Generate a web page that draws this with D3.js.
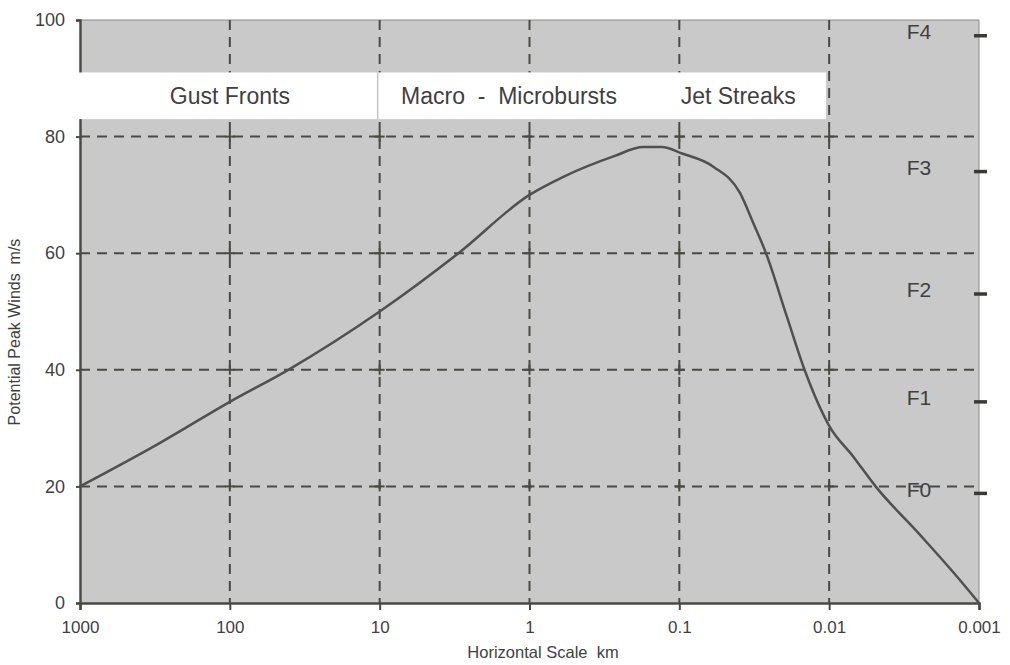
<!DOCTYPE html>
<html>
<head>
<meta charset="utf-8">
<script src="https://cdn.jsdelivr.net/npm/d3@7/dist/d3.min.js"></script>
<style>
  html, body { margin: 0; padding: 0; background: #ffffff; }
  svg { display: block; }
  text { font-family: "Liberation Sans", Arial, sans-serif; fill: #3f3f3f; }
</style>
</head>
<body>
<svg id="chart" width="1010" height="665"></svg>
<script>
// Horizontal scale of the wind system (km) and its potential peak wind (m/s)
const scaleKm  = [1000, 300, 100, 40.7, 10, 2.98, 1, 0.594, 0.275, 0.174, 0.131, 0.096,
                  0.059, 0.0393, 0.032, 0.0264, 0.0192, 0.0146, 0.01, 0.0069, 0.0049,
                  0.0025, 0.0015, 0.001];
const peakWind = [20, 27.3, 34.5, 40, 50, 60, 70, 73.1, 76.6, 78.2, 78.2, 77.1,
                  74.8, 70.3, 65.1, 60, 49.2, 40, 30.4, 25.1, 20,
                  11.8, 5.4, 0];

// Axis ticks
const xTicks = [1000, 100, 10, 1, 0.1, 0.01, 0.001];
const xTickLabels = ["1000", "100", "10", "1", "0.1", "0.01", "0.001"];
const yTicks = [0, 20, 40, 60, 80, 100];

// Fujita scale markers on the right edge (m/s)
const fujitaNames = ["F0", "F1", "F2", "F3", "F4"];
const fujitaSpeeds = [18.8, 34.5, 53, 74, 97.3];

// Phenomena bands shown across the top, centred on a typical scale (km)
const bandNames = ["Gust Fronts", "Macro  -  Microbursts", "Jet Streaks"];
const bandCentres = [100, 1.37, 0.0405];

const svg = d3.select("#chart");
const W = 1010, H = 665;
const margin = { left: 80, right: 31, top: 20, bottom: 62 };
const x0 = margin.left, x1 = W - margin.right;
const y0 = H - margin.bottom, y1 = margin.top;

const x = d3.scaleLog().domain([1000, 0.001]).range([x0, x1]);
const y = d3.scaleLinear().domain([0, 100]).range([y0, y1]);

const ink = "#4a4a44";
const fontFamily = "Liberation Sans, Arial, sans-serif";

// Plot background
svg.append("rect")
  .attr("x", x0).attr("y", y1)
  .attr("width", x1 - x0).attr("height", y0 - y1)
  .attr("fill", "#c9c9c9");

// Outer frame (top and right are thin)
svg.append("path")
  .attr("d", `M${x0},${y1}H${x1}V${y0}`)
  .attr("fill", "none").attr("stroke", "#8a8a8a").attr("stroke-width", 1);

// Dashed grid
const innerY = yTicks.filter(v => v > 0 && v < 100);
const innerX = xTicks.slice(1, -1);
const grid = svg.append("g").attr("stroke", ink).attr("stroke-width", 2)
  .attr("stroke-dasharray", "10,7").attr("fill", "none");
grid.selectAll("line.h").data(innerY).join("line")
  .attr("class", "h")
  .attr("x1", x0).attr("x2", x1)
  .attr("y1", d => y(d)).attr("y2", d => y(d));
grid.selectAll("line.v").data(innerX).join("line")
  .attr("class", "v")
  .attr("y1", y1).attr("y2", y0)
  .attr("x1", d => x(d)).attr("x2", d => x(d));

// Small solid crosses where grid lines meet
const crosses = svg.append("g").attr("stroke", ink).attr("stroke-width", 2);
innerX.forEach(kx => {
  innerY.forEach(vy => {
    crosses.append("line").attr("x1", x(kx) - 5).attr("x2", x(kx) + 5)
      .attr("y1", y(vy)).attr("y2", y(vy));
    crosses.append("line").attr("x1", x(kx)).attr("x2", x(kx))
      .attr("y1", y(vy) - 5).attr("y2", y(vy) + 5);
  });
});

// Axes
const xAxis = d3.axisBottom(x).tickValues(xTicks)
  .tickFormat((d, i) => xTickLabels[i]).tickSize(7).tickPadding(11);
const gx = svg.append("g").attr("transform", `translate(0,${y0})`).call(xAxis);
gx.select(".domain").attr("stroke", ink).attr("stroke-width", 2.5);
gx.selectAll(".tick line").attr("stroke", ink).attr("stroke-width", 2);
gx.selectAll(".tick text").attr("font-size", 17).attr("fill", "#3f3f3f")
  .attr("font-family", fontFamily);

const yAxis = d3.axisLeft(y).tickValues(yTicks).tickSize(4).tickPadding(11);
const gy = svg.append("g").attr("transform", `translate(${x0},0)`).call(yAxis);
gy.select(".domain").attr("stroke", ink).attr("stroke-width", 2.5);
gy.selectAll(".tick line").attr("stroke", ink).attr("stroke-width", 2);
gy.selectAll(".tick text").attr("font-size", 18).attr("fill", "#3f3f3f")
  .attr("font-family", fontFamily);

// Band labels across the top (white strip over grid and axis)
const bandTop = y(91), bandBottom = y(83);
svg.append("rect")
  .attr("x", x0 - 3).attr("y", bandTop)
  .attr("width", x(0.0105) - x0 + 3).attr("height", bandBottom - bandTop)
  .attr("fill", "#ffffff");
svg.append("line")
  .attr("x1", x(10) - 2).attr("x2", x(10) - 2)
  .attr("y1", bandTop).attr("y2", bandBottom)
  .attr("stroke", "#c4c4c4").attr("stroke-width", 1.5);
svg.selectAll("text.band").data(bandNames).join("text")
  .attr("class", "band")
  .attr("x", (d, i) => x(bandCentres[i]))
  .attr("y", (bandTop + bandBottom) / 2)
  .attr("dy", "0.35em")
  .attr("text-anchor", "middle")
  .attr("font-size", 23)
  .attr("xml:space", "preserve")
  .text(d => d);

// Peak wind curve
const line = d3.line()
  .x((d, i) => x(scaleKm[i]))
  .y(d => y(d))
  .curve(d3.curveMonotoneX);
svg.append("path")
  .datum(peakWind)
  .attr("d", line)
  .attr("fill", "none")
  .attr("stroke", "#505050")
  .attr("stroke-width", 2.5);

// Fujita markers
svg.selectAll("line.fujita").data(fujitaSpeeds).join("line")
  .attr("class", "fujita")
  .attr("x1", x1 - 5).attr("x2", x1 + 8)
  .attr("y1", d => y(d)).attr("y2", d => y(d))
  .attr("stroke", "#3a3a34").attr("stroke-width", 3.5);
svg.selectAll("text.fujita").data(fujitaNames).join("text")
  .attr("class", "fujita")
  .attr("x", x1 - 60)
  .attr("y", (d, i) => y(fujitaSpeeds[i]) - 4)
  .attr("dy", "0.35em")
  .attr("text-anchor", "middle")
  .attr("font-size", 21)
  .text(d => d);

// Axis titles
svg.append("text")
  .attr("x", 543).attr("y", 658)
  .attr("text-anchor", "middle")
  .attr("font-size", 16.5)
  .attr("xml:space", "preserve")
  .text("Horizontal Scale  km");
svg.append("text")
  .attr("transform", `translate(20,${332}) rotate(-90)`)
  .attr("text-anchor", "middle")
  .attr("font-size", 16)
  .attr("xml:space", "preserve")
  .text("Potential Peak Winds  m/s");
</script>
</body>
</html>
